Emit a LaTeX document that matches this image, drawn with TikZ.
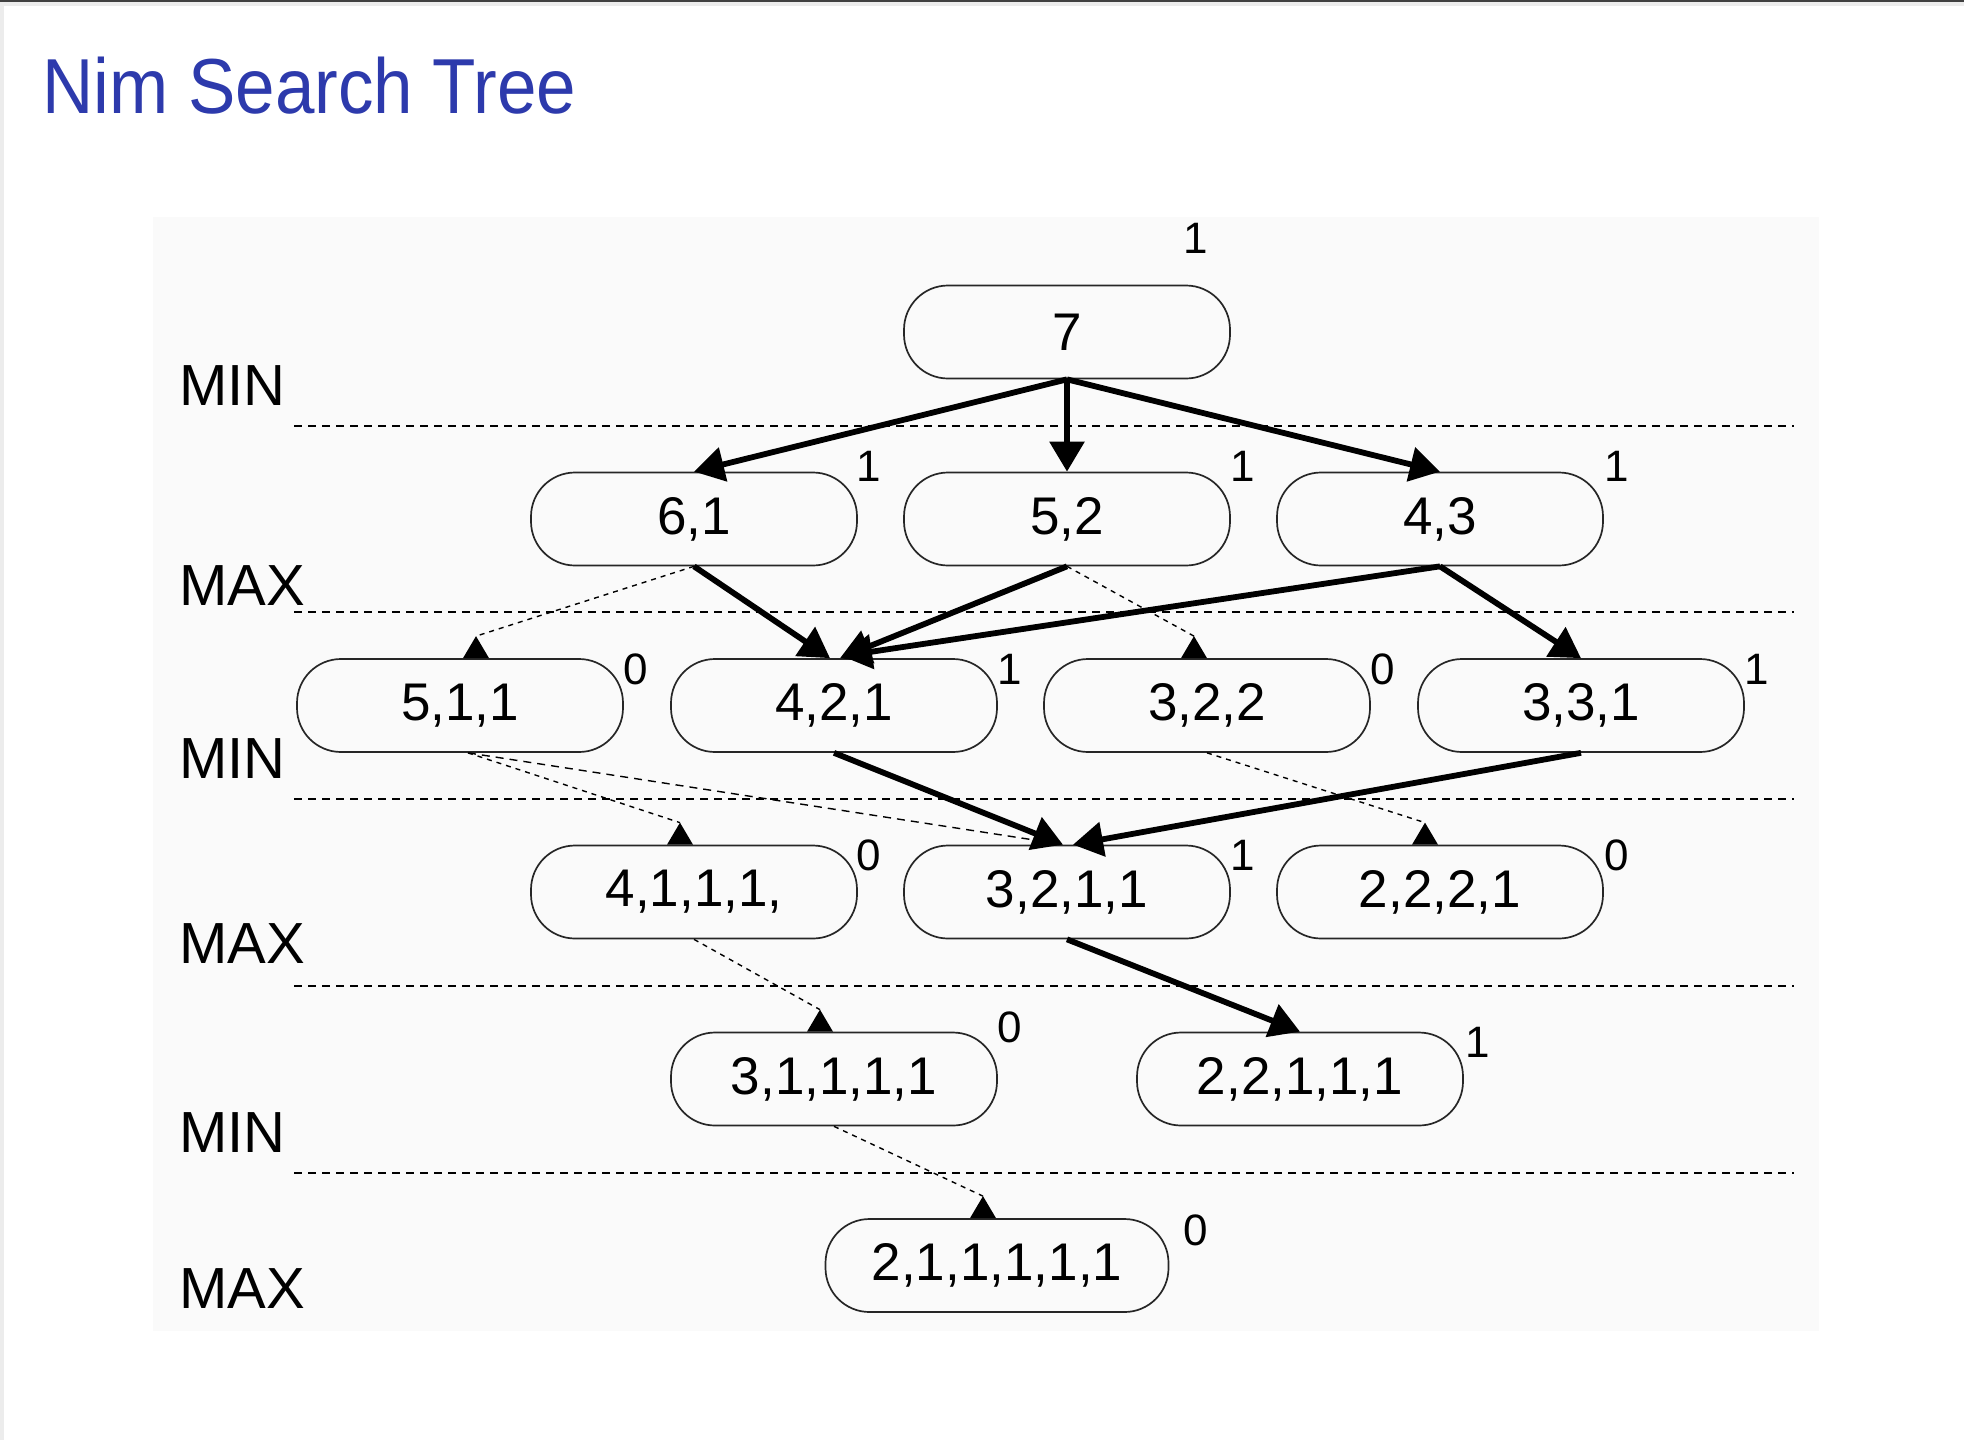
\documentclass[tikz,border=0pt]{standalone}
\usepackage{fontspec}
\setmainfont{Liberation Sans}
\newfontfamily\titlefam[FakeStretch=0.91]{Liberation Sans}
\usetikzlibrary{arrows.meta,calc}
\definecolor{titleblue}{RGB}{45,58,172}
\definecolor{bgpanel}{RGB}{250,250,250}
\definecolor{framegray}{RGB}{236,236,236}
\tikzset{
  state/.style={draw=black!85, line width=0.85pt, rounded corners=22pt,
    minimum width=163pt, minimum height=46.5pt, inner sep=0pt,
    font=\fontsize{26.5pt}{30pt}\selectfont},
  widestate/.style={minimum width=171.5pt},
  val/.style={font=\fontsize{22pt}{26pt}\selectfont, inner sep=0pt},
  levellab/.style={font=\fontsize{29pt}{33pt}\selectfont, anchor=base west, inner sep=0pt},
  sepline/.style={line width=1pt, dash pattern=on 4pt off 3pt, black},
  best/.style={line width=2.9pt, -{Triangle[length=15pt,width=17pt]}},
  other/.style={line width=0.7pt, dash pattern=on 2.5pt off 2.5pt},
  otherlong/.style={line width=0.7pt, dash pattern=on 4pt off 3pt},
  uptri/.style={fill=black}
}
\begin{document}
\begin{tikzpicture}[x=0.5pt,y=-0.5pt]
\useasboundingbox (0,0) rectangle (1964,1440);
% page frame
\fill[white] (0,0) rectangle (1964,1440);
\fill[framegray] (0,0) rectangle (3.5,1440);
\fill[framegray] (0,0) rectangle (1964,6);
\fill[black!75] (0,0) rectangle (1964,1.5);
% title
\node[anchor=base west, inner sep=0pt, text=titleblue,
      font={\titlefam\fontsize{39pt}{45pt}\selectfont}] (title) at (42,113) {Nim Search Tree};
% panel
\fill[bgpanel] (153,217) rectangle (1819,1331);
% level separators
\foreach \yy in {425.5,612,798.5,985.5,1172.5}
  \draw[sepline] (294,\yy) -- (1794,\yy);
% level labels
\node[levellab] (l1) at (179,405) {MIN};
\node[levellab] (l2) at (179,605) {MAX};
\node[levellab] (l3) at (179,778) {MIN};
\node[levellab] (l4) at (179,963) {MAX};
\node[levellab] (l5) at (179,1152) {MIN};
\node[levellab] (l6) at (179,1308) {MAX};
% nodes
\node[state] (n7) at (1067,332) {7};
\node[state] (n61) at (694,519) {6,1};
\node[state] (n52) at (1067,519) {5,2};
\node[state] (n43) at (1440,519) {4,3};
\node[state] (n511) at (460,705.5) {5,1,1};
\node[state] (n421) at (834,705.5) {4,2,1};
\node[state] (n322) at (1207,705.5) {3,2,2};
\node[state] (n331) at (1581,705.5) {3,3,1};
\node[state] (n4111) at (694,892) {4,1,1,1,};
\node[state] (n3211) at (1067,892) {3,2,1,1};
\node[state] (n2221) at (1440,892) {2,2,2,1};
\node[state] (n31111) at (834,1079) {3,1,1,1,1};
\node[state] (n22111) at (1300,1079) {2,2,1,1,1};
\node[state,widestate] (n211111) at (997,1265.5) {2,1,1,1,1,1};
% values
\node[val] (v7) at (1196,238) {1};
\node[val] (v61) at (869,466) {1};
\node[val] (v52) at (1243,466) {1};
\node[val] (v43) at (1617,466) {1};
\node[val] (v511) at (636,669) {0};
\node[val] (v421) at (1010,669) {1};
\node[val] (v322) at (1383,669) {0};
\node[val] (v331) at (1757,669) {1};
\node[val] (v4111) at (869,855) {0};
\node[val] (v3211) at (1243,855) {1};
\node[val] (v2221) at (1617,855) {0};
\node[val] (v31111) at (1010,1027) {0};
\node[val] (v22111) at (1478,1042) {1};
\node[val] (v211111) at (1196,1230) {0};
% pruned moves: apex coordinates of the small upright triangles
\coordinate (b511) at ($(n511.north)+(16,0)$);
\coordinate (a511) at ($(n511.north)+(16,-22)$);
\coordinate (b322) at ($(n322.north)+(-13,0)$);
\coordinate (a322) at ($(n322.north)+(-13,-22)$);
\coordinate (b4111) at ($(n4111.north)+(-14,0)$);
\coordinate (a4111) at ($(n4111.north)+(-14,-22)$);
\coordinate (b2221) at ($(n2221.north)+(-15,0)$);
\coordinate (a2221) at ($(n2221.north)+(-15,-22)$);
\coordinate (b31111) at ($(n31111.north)+(-14,0)$);
\coordinate (a31111) at ($(n31111.north)+(-14,-22)$);
\coordinate (b211111) at ($(n211111.north)+(-14,0)$);
\coordinate (a211111) at ($(n211111.north)+(-14,-22)$);
\coordinate (e3211) at ($(n3211.north)+(-22,-3)$);
\draw[other] (n61.south) -- (a511);
\draw[other] (n52.south) -- (a322);
\draw[other] ($(n511.south)+(8,0)$) -- (a4111);
\draw[otherlong] ($(n511.south)+(8,0)$) -- (e3211);
\draw[other] (n322.south) -- (a2221);
\draw[other] (n4111.south) -- (a31111);
\draw[other] (n31111.south) -- (a211111);
\foreach \t in {511,322,4111,2221,31111,211111}
  \fill[uptri] ($(b\t)+(-13,0)$) -- (a\t) -- ($(b\t)+(13,0)$) -- cycle;
% best moves
\draw[best] (n7.south) -- (n61.north);
\draw[best] (n7.south) -- (n52.north);
\draw[best] (n7.south) -- (n43.north);
\draw[best] (n61.south) -- ($(n421.north)+(-4,0)$);
\draw[best] (n52.south) -- ($(n421.north)+(6,0)$);
\draw[best] (n43.south) -- ($(n421.north)+(8,-2)$);
\draw[best] (n43.south) -- (n331.north);
\draw[best] (n421.south) -- ($(n3211.north)+(-4,0)$);
\draw[best] (n331.south) -- ($(n3211.north)+(6,0)$);
\draw[best] (n3211.south) -- (n22111.north);
\end{tikzpicture}
\end{document}
